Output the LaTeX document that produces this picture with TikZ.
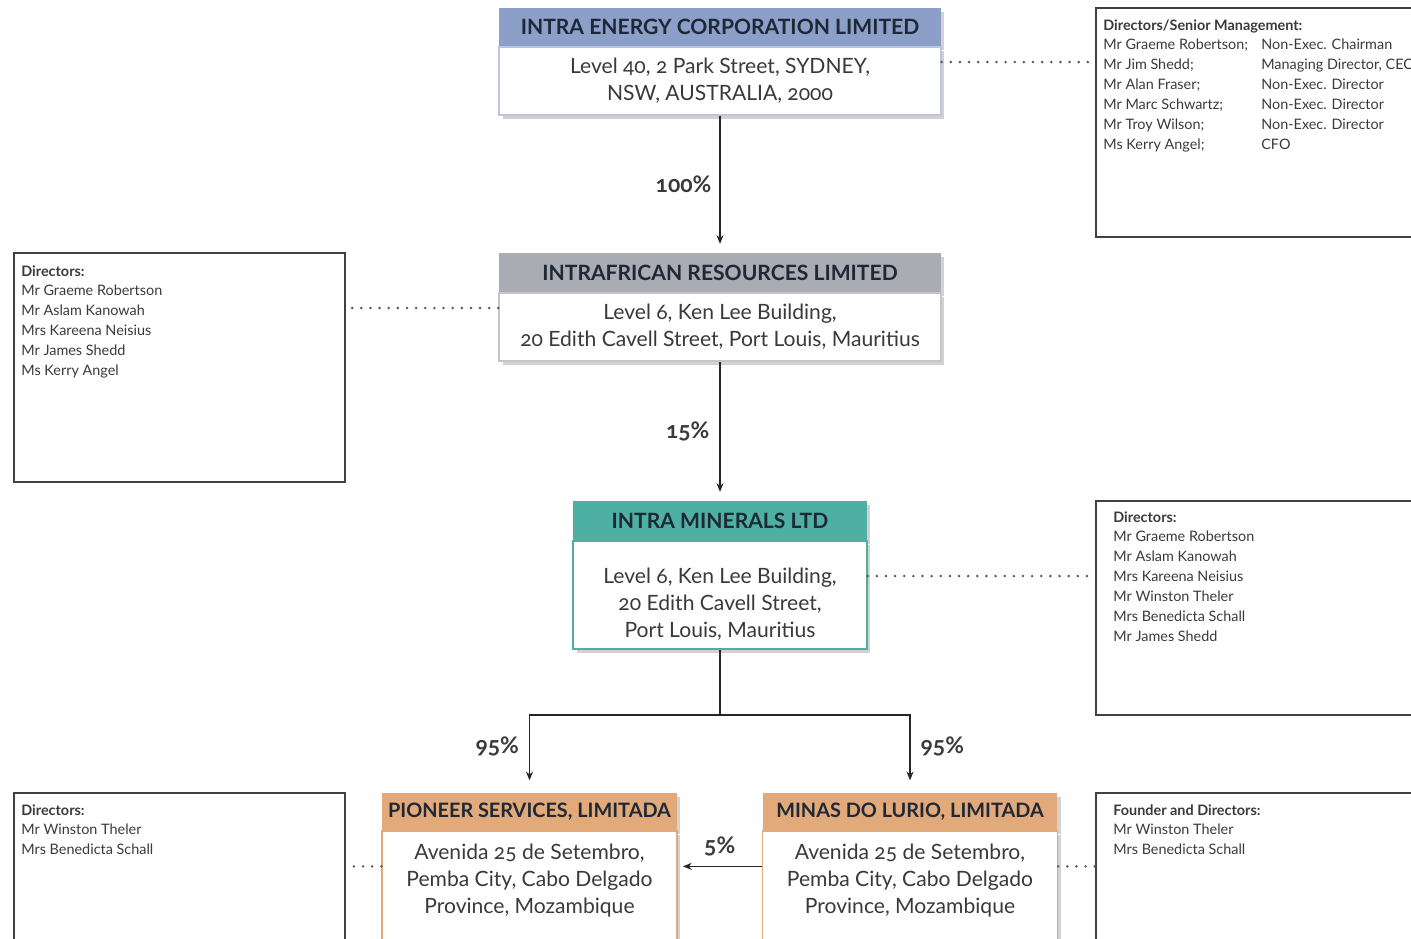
\documentclass[tikz,border=0pt]{standalone}
\usepackage{fontspec}
\setmainfont[Numbers=OldStyle]{Lato}
\usepackage{xcolor}
\usetikzlibrary{arrows.meta,positioning,shadows}

\definecolor{energyblue}{HTML}{8C9FC9}
\definecolor{resgray}{HTML}{A9ACB2}
\definecolor{mintteal}{HTML}{4DB0A2}
\definecolor{mozorange}{HTML}{E2AA7A}
\definecolor{inkdark}{HTML}{1E2836}
\definecolor{txtgray}{HTML}{3A3A3A}

\tikzset{
  head/.style={minimum height=0.76cm, inner sep=0pt, font=\bfseries\fontsize{12}{14}\selectfont, text=inkdark,
    drop shadow={shadow xshift=2pt, shadow yshift=-2pt, fill=black!35}},
  addr/.style={draw=#1, fill=white, line width=0.8pt, inner sep=0pt, align=center,
    font=\fontsize{12}{15.3}\selectfont, text=txtgray,
    drop shadow={shadow xshift=2pt, shadow yshift=-2pt, fill=black!35}},
  addrtext/.style={inner sep=0pt, align=center, font=\fontsize{12}{15.3}\selectfont, text=txtgray},
  dirbox/.style={draw=black!75, line width=0.9pt, inner sep=0pt},
  dirtext/.style={anchor=north west, align=left, inner sep=0pt, font=\fontsize{8.2}{11.3}\selectfont, text=txtgray},
  own/.style={-{Stealth[length=5pt,width=4pt]}, line width=0.7pt, black!85},
  link/.style={line width=1.6pt, dash pattern=on 0pt off 5.2pt, line cap=round, black!65},
  pct/.style={font=\bfseries\fontsize{13}{15}\selectfont, text=txtgray, inner sep=0pt},
}

\begin{document}
\begin{tikzpicture}[x=0.02cm, y=-0.02cm]
  \useasboundingbox (0,0) rectangle (1411,938);
  \clip (0,0) rectangle (1411,938);

  % companies
  \node[head, fill=energyblue, minimum width=8.84cm] (ieHead) at (720,27) {INTRA ENERGY CORPORATION LIMITED};
  \node[addr=energyblue!60, minimum width=8.84cm, minimum height=1.36cm, below=0pt of ieHead] (ieAddr)
    {Level 40, 2 Park Street, SYDNEY,\\NSW, AUSTRALIA, 2000};

  \node[head, fill=resgray, minimum width=8.84cm, minimum height=0.78cm] (irHead) at (720,272.5) {INTRAFRICAN RESOURCES LIMITED};
  \node[addr=resgray!70, minimum width=8.84cm, minimum height=1.36cm, below=0pt of irHead] (irAddr)
    {Level 6, Ken Lee Building,\\20 Edith Cavell Street, Port Louis, Mauritius};

  \node[head, fill=mintteal, minimum width=5.88cm, minimum height=0.78cm] (imHead) at (720,520.5) {INTRA MINERALS LTD};
  \node[addr=mintteal, minimum width=5.88cm, minimum height=2.16cm, below=0pt of imHead] (imAddr) {};
  \node[addrtext] (imText) at ([yshift=-1.28cm]imAddr.north)
    {Level 6, Ken Lee Building,\\20 Edith Cavell Street,\\Port Louis, Mauritius};

  \node[head, fill=mozorange, minimum width=5.9cm, minimum height=0.74cm, font=\bfseries\fontsize{11.3}{14}\selectfont] (pHead) at (529.5,811.5) {PIONEER SERVICES, LIMITADA};
  \node[addr=mozorange, minimum width=5.9cm, minimum height=3cm, below=0pt of pHead] (pAddr) {};
  \node[addrtext] (pText) at ([yshift=-1cm]pAddr.north)
    {Avenida 25 de Setembro,\\Pemba City, Cabo Delgado\\Province, Mozambique};

  \node[head, fill=mozorange, minimum width=5.9cm, minimum height=0.74cm, font=\bfseries\fontsize{11.3}{14}\selectfont] (mHead) at (910,811.5) {MINAS DO LURIO, LIMITADA};
  \node[addr=mozorange, minimum width=5.9cm, minimum height=3cm, below=0pt of mHead] (mAddr) {};
  \node[addrtext] (mText) at ([yshift=-1cm]mAddr.north)
    {Avenida 25 de Setembro,\\Pemba City, Cabo Delgado\\Province, Mozambique};

  % director boxes
  \node[dirbox, minimum width=6.48cm, minimum height=4.58cm] (d1) at (1258,122.5) {};
  \node[dirtext] (d1Text) at (1103,19) {\textbf{Directors/Senior Management:}\\
    \makebox[3.16cm][l]{Mr Graeme Robertson;}Non-Exec. Chairman\\
    \makebox[3.16cm][l]{Mr Jim Shedd;}Managing Director, CEO\\
    \makebox[3.16cm][l]{Mr Alan Fraser;}Non-Exec. Director\\
    \makebox[3.16cm][l]{Mr Marc Schwartz;}Non-Exec. Director\\
    \makebox[3.16cm][l]{Mr Troy Wilson;}Non-Exec. Director\\
    \makebox[3.16cm][l]{Ms Kerry Angel;}CFO};

  \node[dirbox, minimum width=6.62cm, minimum height=4.58cm] (d2) at (179.5,367.5) {};
  \node[dirtext] (d2Text) at (21,265) {\textbf{Directors:}\\Mr Graeme Robertson\\Mr Aslam Kanowah\\
    Mrs Kareena Neisius\\Mr James Shedd\\Ms Kerry Angel};

  \node[dirbox, minimum width=6.48cm, minimum height=4.28cm] (d3) at (1258,608) {};
  \node[dirtext] (d3Text) at (1113,511) {\textbf{Directors:}\\Mr Graeme Robertson\\Mr Aslam Kanowah\\
    Mrs Kareena Neisius\\Mr Winston Theler\\Mrs Benedicta Schall\\Mr James Shedd};

  \node[dirbox, minimum width=6.62cm, minimum height=4.14cm] (d4) at (179.5,896.5) {};
  \node[dirtext] (d4Text) at (21,804) {\textbf{Directors:}\\Mr Winston Theler\\Mrs Benedicta Schall};

  \node[dirbox, minimum width=6.48cm, minimum height=4.14cm] (d5) at (1258,896.5) {};
  \node[dirtext] (d5Text) at (1113,804) {\textbf{Founder and Directors:}\\Mr Winston Theler\\Mrs Benedicta Schall};

  % dotted links
  \draw[link] ([yshift=0.38cm]ieAddr.east) -- ([yshift=0.38cm]ieAddr.east -| d1.west);
  \draw[link] ([yshift=0.38cm]irAddr.west) -- ([yshift=0.38cm]irAddr.west -| d2.east);
  \draw[link] ([yshift=0.38cm]imAddr.east) -- ([yshift=0.38cm]imAddr.east -| d3.west);
  \draw[link] ([yshift=-0.72cm]pAddr.north west) -- ([yshift=-0.72cm]pAddr.north west -| d4.east);
  \draw[link] ([yshift=-0.72cm]mAddr.north east) -- ([yshift=-0.72cm]mAddr.north east -| d5.west);

  % ownership
  \draw[own, shorten >=5pt] (ieAddr.south) -- node[pct, pos=0.5, left=0.16cm] {100\%} (irHead.north);
  \draw[own, shorten >=5pt] (irAddr.south) -- node[pct, pos=0.5, left=0.2cm] {15\%} (imHead.north);
  \coordinate (fork) at (720,715);
  \draw[own, -] (imAddr.south) -- (fork);
  \draw[own, shorten >=7pt] (fork) -| node[pct, pos=0.7, left=0.2cm] {95\%} (pHead.north);
  \draw[own, shorten >=7pt] (fork) -| node[pct, pos=0.7, right=0.2cm] {95\%} (mHead.north);
  \draw[own, shorten >=3pt] ([yshift=-0.72cm]mAddr.north west) -- node[pct, above=0.2cm] {5\%} ([yshift=-0.72cm]pAddr.north east);
\end{tikzpicture}
\end{document}
